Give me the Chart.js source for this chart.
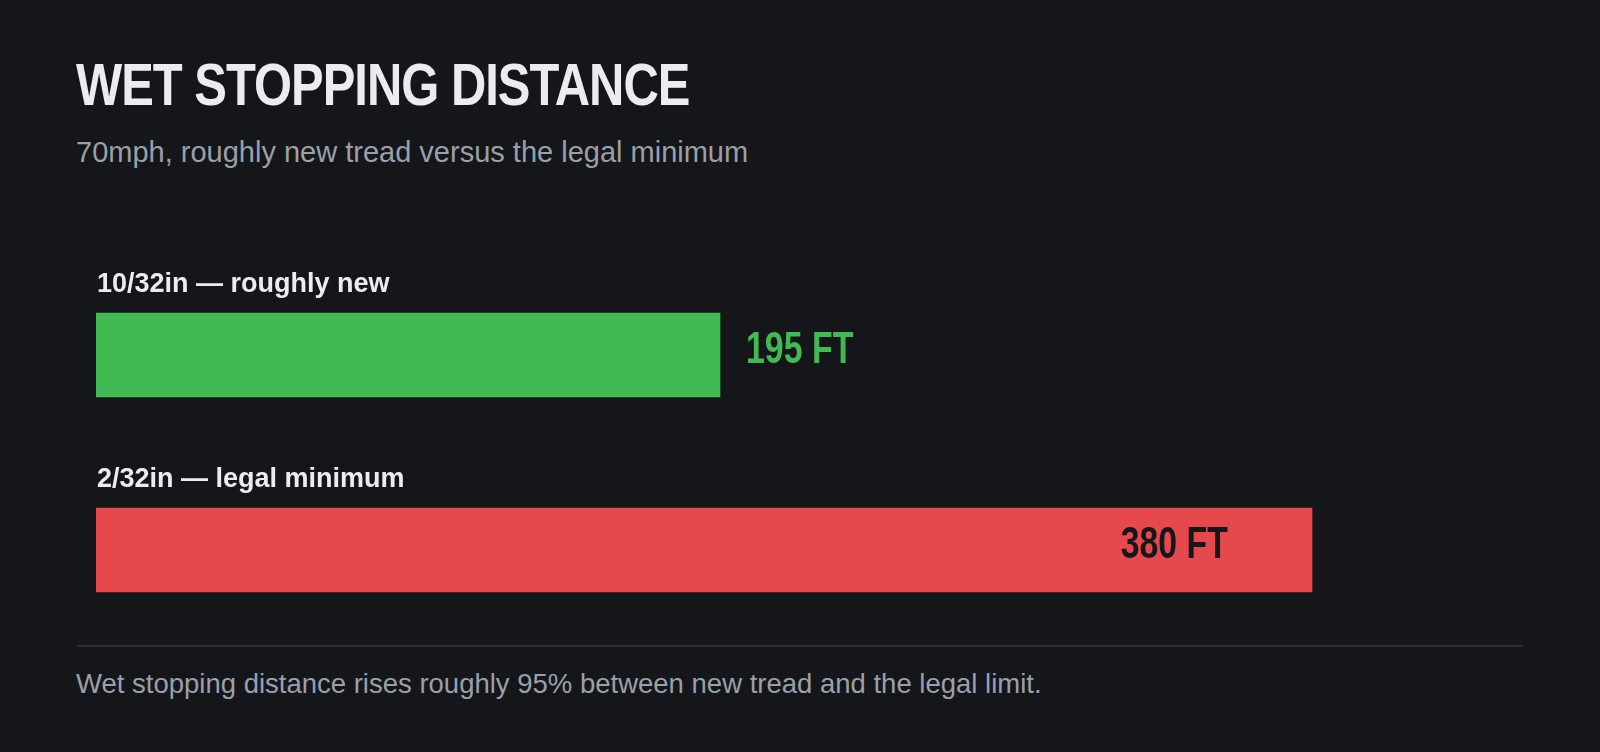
<!DOCTYPE html>
<html>
<head>
<meta charset="utf-8">
<script src="https://cdn.jsdelivr.net/npm/chart.js@4.4.1/dist/chart.umd.min.js"></script>
<style>
  html, body { margin: 0; padding: 0; background: #15161a; width: 1600px; height: 752px; overflow: hidden; }
  .t { position: absolute; white-space: nowrap; margin: 0; }
  #title { left: 76px; top: 50px; font: bold 60px 'Liberation Sans Narrow', 'Arial Narrow', 'Liberation Sans', sans-serif; color: #ececf0; letter-spacing: -1.2px; line-height: 70px; transform: scaleX(0.815); transform-origin: 0 0; }
  #subtitle { left: 76px; top: 134px; font: 29px 'Liberation Sans', Arial, sans-serif; color: #9aa0aa; line-height: 36px; }
  #rule { position: absolute; left: 77px; top: 645px; width: 1446px; height: 2px; background: #2b2d34; }
  #footer { left: 76px; top: 666px; font: 27.5px 'Liberation Sans', Arial, sans-serif; color: #9aa0aa; line-height: 36px; }
  #c { position: absolute; left: 0; top: 0; }
</style>
</head>
<body>
<div id="title" class="t">WET STOPPING DISTANCE</div>
<div id="subtitle" class="t">70mph, roughly new tread versus the legal minimum</div>
<div id="rule"></div>
<div id="footer" class="t">Wet stopping distance rises roughly 95% between new tread and the legal limit.</div>
<div style="position:absolute;left:0;top:0;width:1600px;height:752px;"><canvas id="c"></canvas></div>
<script>
const categories = ['10/32in \u2014 roughly new', '2/32in \u2014 legal minimum'];
const distances = [195, 380];
const valueLabels = ['195 FT', '380 FT'];
const barColors = ['#40ba52', '#e5484d'];
const axisMax = 440;

const labelPlugin = {
  id: 'barLabels',
  afterDatasetsDraw(chart) {
    const ctx = chart.ctx;
    const meta = chart.getDatasetMeta(0);
    meta.data.forEach((bar, i) => {
      ctx.save();
      // category label above bar
      ctx.font = 'bold 27px "Liberation Sans", Arial, sans-serif';
      ctx.fillStyle = '#ececf0';
      ctx.textAlign = 'left';
      ctx.textBaseline = 'alphabetic';
      ctx.fillText(categories[i], bar.base + 1, bar.y - 63.5);
      ctx.restore();
      // value label (condensed)
      ctx.save();
      ctx.font = 'bold 44px "Liberation Sans", Arial, sans-serif';
      ctx.textBaseline = 'alphabetic';
      const inside = distances[i] / axisMax > 0.75;
      if (inside) {
        ctx.fillStyle = '#16171b';
        ctx.textAlign = 'right';
        ctx.translate(bar.x - 84, bar.y + 7.5);
      } else {
        ctx.fillStyle = barColors[i];
        ctx.textAlign = 'left';
        ctx.translate(bar.x + 26, bar.y + 7.5);
      }
      ctx.scale(0.77, 1);
      ctx.fillText(valueLabels[i], 0, 0);
      ctx.restore();
    });
  }
};

new Chart(document.getElementById('c'), {
  type: 'bar',
  data: {
    labels: categories,
    datasets: [{
      data: distances,
      backgroundColor: barColors,
      borderWidth: 0,
      barThickness: 84
    }]
  },
  options: {
    indexAxis: 'y',
    responsive: true,
    maintainAspectRatio: false,
    animation: false,
    layout: { padding: { left: 96, right: 96, top: 257.5, bottom: 104.5 } },
    scales: {
      x: { display: false, min: 0, max: axisMax },
      y: { display: false }
    },
    plugins: { legend: { display: false }, tooltip: { enabled: false } }
  },
  plugins: [labelPlugin]
});
</script>
</body>
</html>
